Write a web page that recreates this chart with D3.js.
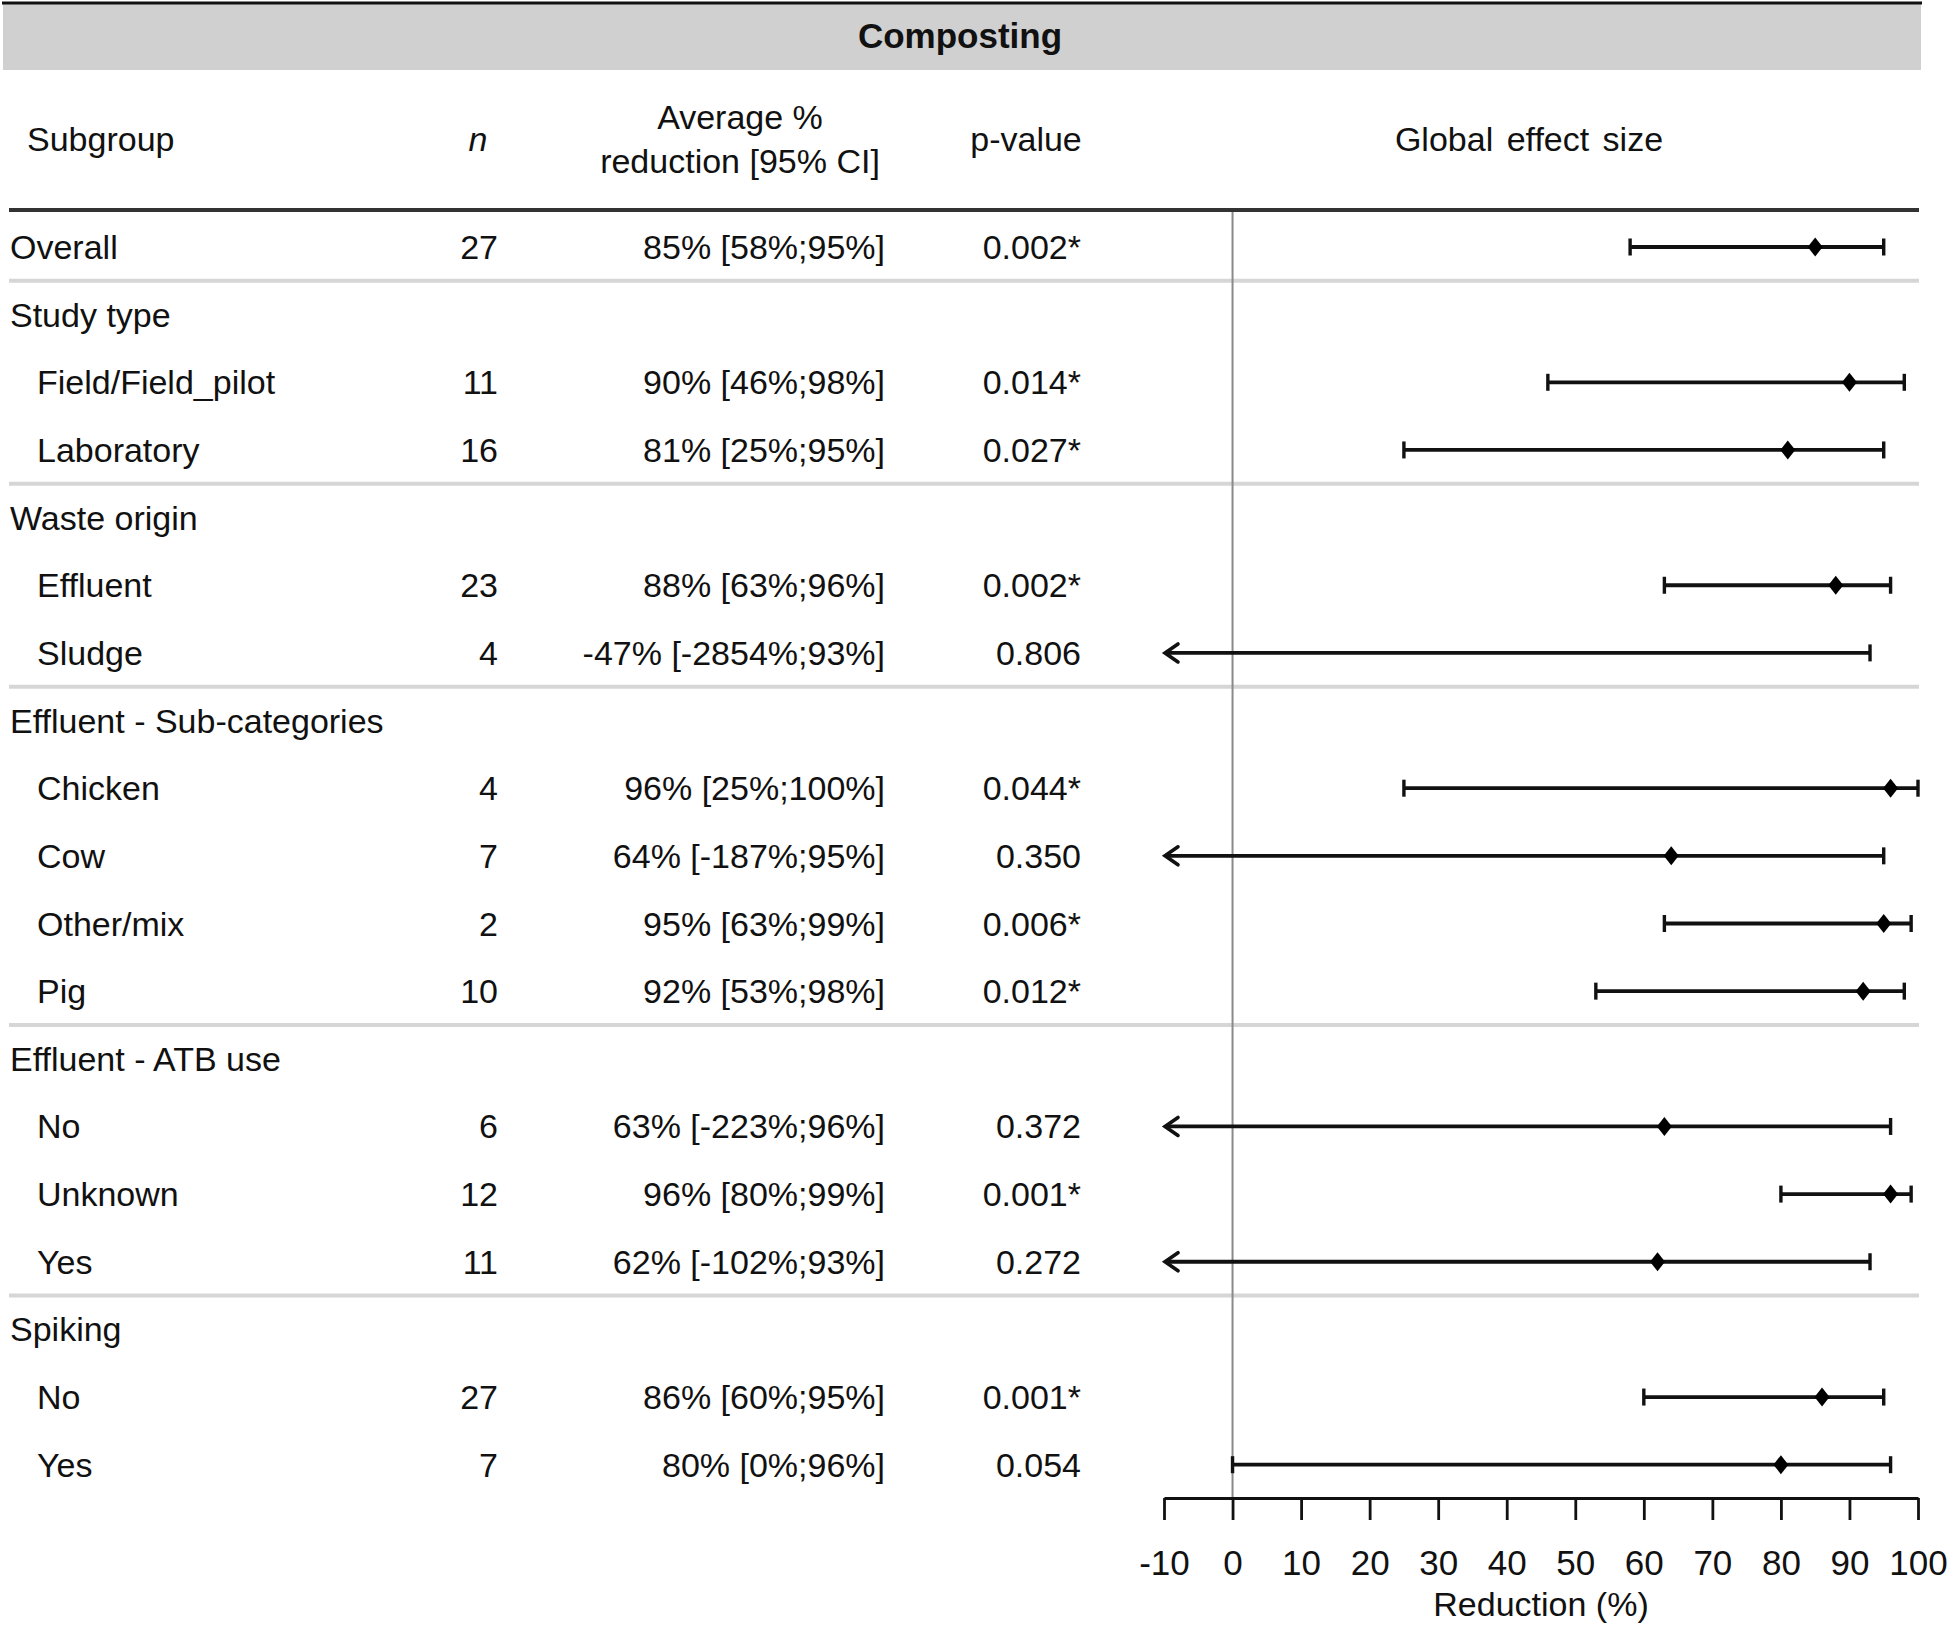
<!DOCTYPE html>
<html>
<head>
<meta charset="utf-8">
<script src="https://cdn.jsdelivr.net/npm/d3@7"></script>
<style>
  html, body { margin: 0; padding: 0; background: #fff; }
  svg text { font-family: "Liberation Sans", Arial, sans-serif; fill: #111; }
</style>
</head>
<body>
<svg id="chart" width="1948" height="1627"></svg>
<script>
// ---------------- data ----------------
const title = "Composting";
const headers = ["Subgroup", "n", "Average %", "reduction [95% CI]", "p-value", "Global effect size"];
const labels = ["Overall", "Study type", "Field/Field_pilot", "Laboratory", "Waste origin", "Effluent", "Sludge",
  "Effluent - Sub-categories", "Chicken", "Cow", "Other/mix", "Pig", "Effluent - ATB use", "No", "Unknown", "Yes",
  "Spiking", "No", "Yes"];
const rowTypes = ["overall", "group", "item", "item", "group", "item", "item",
  "group", "item", "item", "item", "item", "group", "item", "item", "item",
  "group", "item", "item"];
const nValues = ["27", "", "11", "16", "", "23", "4", "", "4", "7", "2", "10", "", "6", "12", "11", "", "27", "7"];
const ciTexts = ["85% [58%;95%]", "", "90% [46%;98%]", "81% [25%;95%]", "", "88% [63%;96%]", "-47% [-2854%;93%]",
  "", "96% [25%;100%]", "64% [-187%;95%]", "95% [63%;99%]", "92% [53%;98%]", "", "63% [-223%;96%]",
  "96% [80%;99%]", "62% [-102%;93%]", "", "86% [60%;95%]", "80% [0%;96%]"];
const pValues = ["0.002*", "", "0.014*", "0.027*", "", "0.002*", "0.806", "", "0.044*", "0.350", "0.006*", "0.012*",
  "", "0.372", "0.001*", "0.272", "", "0.001*", "0.054"];
const estimates = [85, null, 90, 81, null, 88, -47, null, 96, 64, 95, 92, null, 63, 96, 62, null, 86, 80];
const lowers    = [58, null, 46, 25, null, 63, -2854, null, 25, -187, 63, 53, null, -223, 80, -102, null, 60, 0];
const uppers    = [95, null, 98, 95, null, 96, 93, null, 100, 95, 99, 98, null, 96, 99, 93, null, 95, 96];
const axisTicks = [-10, 0, 10, 20, 30, 40, 50, 60, 70, 80, 90, 100];
const axisTitle = "Reduction (%)";

// ---------------- layout ----------------
const svg = d3.select("#chart");
const FS = 34;
const leftEdge = 9, rightEdge = 1919;
const rowY0 = 247, rowStep = 67.65;
const x = d3.scaleLinear().domain([-10, 100]).range([1164, 1918]);
const y = d3.scaleLinear().domain([0, 1]).range([rowY0, rowY0 + rowStep]);
const axisY = 1498;
const ink = "#111";

// title band
svg.append("rect").attr("x", 3).attr("y", 4).attr("width", rightEdge + 2 - 3).attr("height", 66).attr("fill", "#d0d0d0");
svg.append("line").attr("x1", 2).attr("x2", rightEdge + 3).attr("y1", 3).attr("y2", 3)
  .attr("stroke", ink).attr("stroke-width", 3);
svg.append("text").attr("x", 960).attr("y", 48).attr("text-anchor", "middle")
  .attr("font-size", 35).attr("font-weight", "bold").text(title);

// column headers
svg.append("text").attr("x", 27).attr("y", 151).attr("font-size", FS).text(headers[0]);
svg.append("text").attr("x", 478).attr("y", 151).attr("font-size", FS).attr("text-anchor", "middle")
  .attr("font-style", "italic").text(headers[1]);
svg.append("text").attr("x", 740).attr("y", 129).attr("font-size", FS).attr("text-anchor", "middle").text(headers[2]);
svg.append("text").attr("x", 740).attr("y", 173).attr("font-size", FS).attr("text-anchor", "middle").text(headers[3]);
svg.append("text").attr("x", 1026).attr("y", 151).attr("font-size", FS).attr("text-anchor", "middle").text(headers[4]);
svg.append("text").attr("x", 1529).attr("y", 151).attr("font-size", FS).attr("text-anchor", "middle")
  .attr("word-spacing", 4).text(headers[5]);

// separators before each group row (light gray)
rowTypes.forEach((t, i) => {
  if (t === "group" && i > 0) {
    const sy = y(i - 0.5);
    svg.append("line").attr("x1", leftEdge).attr("x2", rightEdge).attr("y1", sy).attr("y2", sy)
      .attr("stroke", "#d6d6d6").attr("stroke-width", 4);
  }
});

// zero reference line
svg.append("line").attr("x1", x(0)).attr("x2", x(0)).attr("y1", 210).attr("y2", axisY)
  .attr("stroke", "#8a8a8a").attr("stroke-width", 2);

// header rule (dark)
svg.append("line").attr("x1", leftEdge).attr("x2", rightEdge).attr("y1", 210).attr("y2", 210)
  .attr("stroke", "#333").attr("stroke-width", 4);

// rows text
const rows = svg.append("g");
labels.forEach((lab, i) => {
  const by = y(i) + 12;
  rows.append("text").attr("x", rowTypes[i] === "item" ? 37 : 10).attr("y", by).attr("font-size", FS).text(lab);
  if (nValues[i]) rows.append("text").attr("x", 498).attr("y", by).attr("font-size", FS).attr("text-anchor", "end").text(nValues[i]);
  if (ciTexts[i]) rows.append("text").attr("x", 885).attr("y", by).attr("font-size", FS).attr("text-anchor", "end").text(ciTexts[i]);
  if (pValues[i]) rows.append("text").attr("x", 1081).attr("y", by).attr("font-size", FS).attr("text-anchor", "end").text(pValues[i]);
});

// CI marks
const [dMin, dMax] = x.domain();
const marks = svg.append("g");
estimates.forEach((est, i) => {
  if (lowers[i] === null) return;
  const cy = y(i);
  const lo = Math.max(lowers[i], dMin), hi = Math.min(uppers[i], dMax);
  marks.append("line").attr("x1", x(lo) + 1).attr("x2", x(hi)).attr("y1", cy).attr("y2", cy)
    .attr("stroke", ink).attr("stroke-width", 3.8);
  // left end
  if (lowers[i] < dMin) {
    marks.append("path")
      .attr("d", `M${x(lo) + 14},${cy - 9} L${x(lo) + 1},${cy} L${x(lo) + 14},${cy + 9}`)
      .attr("fill", "none").attr("stroke", ink).attr("stroke-width", 3.6)
      .attr("stroke-linejoin", "miter").attr("stroke-linecap", "round");
  } else {
    marks.append("line").attr("x1", x(lo)).attr("x2", x(lo)).attr("y1", cy - 8.5).attr("y2", cy + 8.5)
      .attr("stroke", ink).attr("stroke-width", 3.4);
  }
  // right end cap
  marks.append("line").attr("x1", x(hi)).attr("x2", x(hi)).attr("y1", cy - 8.5).attr("y2", cy + 8.5)
    .attr("stroke", ink).attr("stroke-width", 3.4);
  // diamond
  if (est >= dMin && est <= dMax) {
    const cx = x(est);
    marks.append("path")
      .attr("d", `M${cx},${cy - 9.5} L${cx + 7.5},${cy} L${cx},${cy + 9.5} L${cx - 7.5},${cy} Z`)
      .attr("fill", "#000");
  }
});

// axis
const axis = d3.axisBottom(x).tickValues(axisTicks).tickSize(22).tickSizeOuter(0).tickPadding(30)
  .tickFormat(d => String(d));
const ax = svg.append("g").attr("transform", `translate(0,${axisY})`).call(axis);
ax.select(".domain").attr("stroke", ink).attr("stroke-width", 3);
ax.selectAll(".tick line").attr("stroke", ink).attr("stroke-width", 2.8);
ax.selectAll(".tick text").attr("font-size", 35).attr("fill", ink)
  .attr("font-family", "'Liberation Sans', Arial, sans-serif");
svg.append("text").attr("x", (x(dMin) + x(dMax)) / 2).attr("y", 1616).attr("text-anchor", "middle")
  .attr("font-size", FS).text(axisTitle);
</script>
</body>
</html>
